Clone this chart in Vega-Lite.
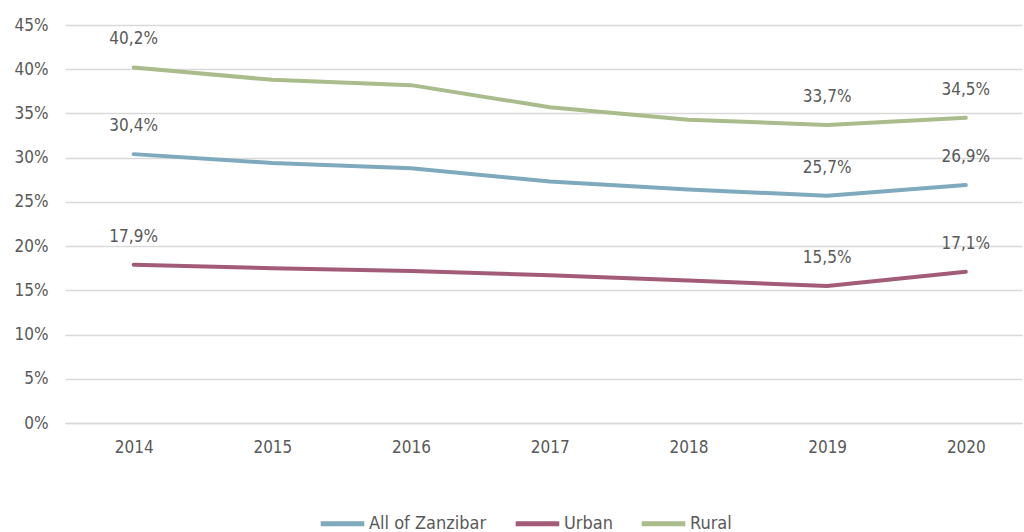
{
  "$schema": "https://vega.github.io/schema/vega-lite/v6.json",
  "width": 957,
  "height": 398,
  "autosize": "none",
  "padding": {"left": 65, "top": 25, "right": 2, "bottom": 109},
  "background": "white",
  "config": {
    "view": {"stroke": null},
    "font": "DejaVu Sans Condensed",
    "axis": {"labelFont": "DejaVu Sans Condensed", "labelFontSize": 17, "labelColor": "#595959", "domain": false, "ticks": false, "title": null},
    "legend": {"labelFont": "DejaVu Sans Condensed", "labelFontSize": 18, "labelColor": "#595959"}
  },
  "data": {
    "values": [
      {"year": "2014", "series": "All of Zanzibar", "value": 30.4, "label": "30,4%"},
      {"year": "2015", "series": "All of Zanzibar", "value": 29.4, "label": ""},
      {"year": "2016", "series": "All of Zanzibar", "value": 28.8, "label": ""},
      {"year": "2017", "series": "All of Zanzibar", "value": 27.3, "label": ""},
      {"year": "2018", "series": "All of Zanzibar", "value": 26.4, "label": ""},
      {"year": "2019", "series": "All of Zanzibar", "value": 25.7, "label": "25,7%"},
      {"year": "2020", "series": "All of Zanzibar", "value": 26.9, "label": "26,9%"},
      {"year": "2014", "series": "Urban", "value": 17.9, "label": "17,9%"},
      {"year": "2015", "series": "Urban", "value": 17.5, "label": ""},
      {"year": "2016", "series": "Urban", "value": 17.2, "label": ""},
      {"year": "2017", "series": "Urban", "value": 16.7, "label": ""},
      {"year": "2018", "series": "Urban", "value": 16.1, "label": ""},
      {"year": "2019", "series": "Urban", "value": 15.5, "label": "15,5%"},
      {"year": "2020", "series": "Urban", "value": 17.1, "label": "17,1%"},
      {"year": "2014", "series": "Rural", "value": 40.2, "label": "40,2%"},
      {"year": "2015", "series": "Rural", "value": 38.8, "label": ""},
      {"year": "2016", "series": "Rural", "value": 38.2, "label": ""},
      {"year": "2017", "series": "Rural", "value": 35.7, "label": ""},
      {"year": "2018", "series": "Rural", "value": 34.3, "label": ""},
      {"year": "2019", "series": "Rural", "value": 33.7, "label": "33,7%"},
      {"year": "2020", "series": "Rural", "value": 34.5, "label": "34,5%"}
    ]
  },
  "encoding": {
    "x": {
      "field": "year", "type": "ordinal",
      "scale": {"type": "point", "padding": 0.45, "align": 0.55},
      "axis": {"labelAngle": 0, "grid": false, "labelPadding": 16, "domain": true, "domainColor": "#d9d9d9", "domainWidth": 1.5}
    },
    "y": {
      "field": "value", "type": "quantitative",
      "scale": {"domain": [0, 45], "nice": false},
      "axis": {"values": [0, 5, 10, 15, 20, 25, 30, 35, 40, 45], "labelExpr": "datum.value + '%'", "gridColor": "#d9d9d9", "gridWidth": 1.5, "labelPadding": 17}
    }
  },
  "layer": [
    {
      "mark": {"type": "line", "strokeWidth": 4, "strokeCap": "round", "strokeJoin": "round"},
      "encoding": {
        "color": {
          "field": "series", "type": "nominal",
          "scale": {"domain": ["All of Zanzibar", "Urban", "Rural"], "range": ["#7fa9bd", "#a35c78", "#aabb8c"]},
          "legend": {"orient": "none", "legendX": 253, "legendY": 474, "direction": "horizontal", "title": null, "symbolType": "stroke", "symbolSize": 1900, "symbolStrokeWidth": 5, "labelOffset": 2, "columnPadding": 18}
        }
      }
    },
    {
      "mark": {"type": "text", "fontSize": 17, "color": "#595959", "dy": -28},
      "encoding": {"text": {"field": "label"}}
    }
  ]
}
